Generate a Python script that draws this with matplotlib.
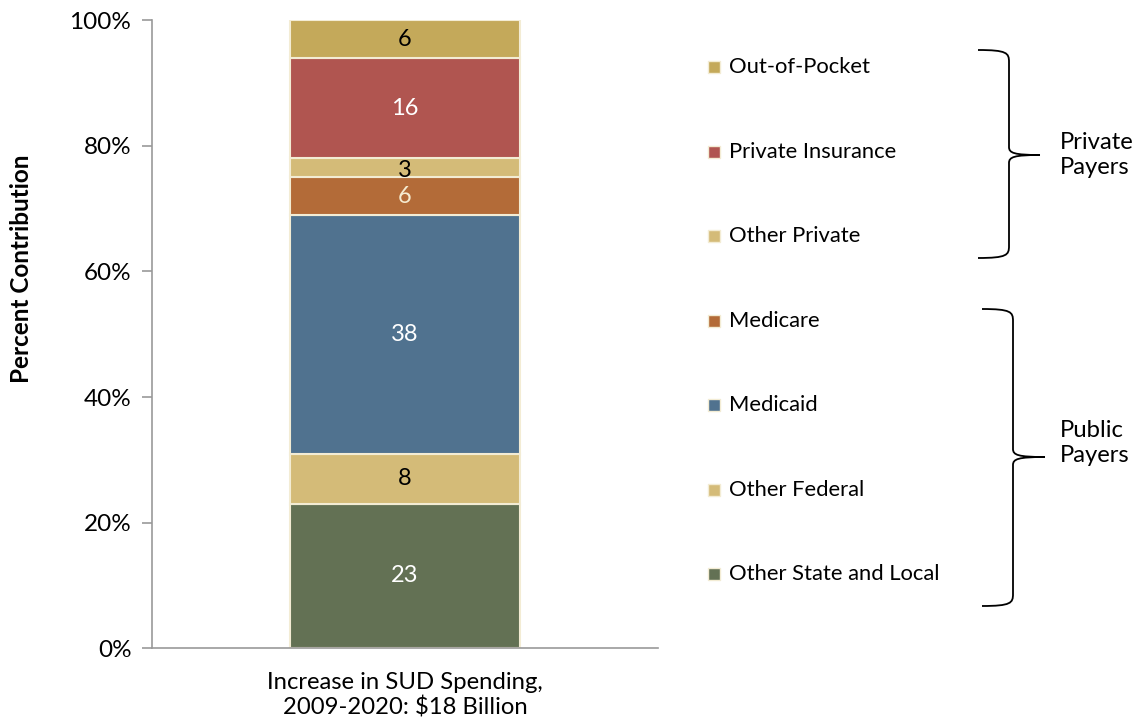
import numpy as np
import matplotlib.pyplot as plt
from matplotlib.patches import Rectangle, PathPatch
from matplotlib.path import Path

plt.rcParams['font.family'] = ['Lato', 'DejaVu Sans']

# payer shares of the increase, bottom to top
payers = ["Other State and Local", "Other Federal", "Medicaid", "Medicare",
          "Other Private", "Private Insurance", "Out-of-Pocket"]
shares = [23, 8, 38, 6, 3, 16, 6]
colors = ["#637154", "#d4bb78", "#50728f", "#b36b38",
          "#d4bb78", "#b05550", "#c4a95a"]
text_colors = ["white", "black", "white", "#f5ebd0",
               "black", "white", "black"]
category = "Increase in SUD Spending,\n2009-2020: $18 Billion"
yticks = [0, 20, 40, 60, 80, 100]

fig = plt.figure(figsize=(11.36, 7.25), dpi=100)
ax = fig.add_axes([0.134, 0.106, 0.445, 0.866])

bottom = 0
for val, col, tc in zip(shares, colors, text_colors):
    ax.bar(0, val, bottom=bottom, width=0.455, color=col,
           edgecolor="#f3ecd4", linewidth=1.5)
    y = bottom + val / 2
    if val <= 3:
        y -= 0.4
    ax.text(0, y, str(val), ha="center", va="center", color=tc, fontsize=17)
    bottom += val

ax.set_xlim(-0.5, 0.5)
ax.set_ylim(0, 100)
ax.set_yticks(yticks)
ax.set_yticklabels([f"{t}%" for t in yticks], fontsize=17.5)
ax.set_xticks([0])
ax.set_xticklabels([category], fontsize=17.2, linespacing=1.2)
ax.tick_params(axis="x", length=0, pad=17)
ax.tick_params(axis="y", length=7, color="#999999", width=1.2, pad=8)
for s in ["top", "right"]:
    ax.spines[s].set_visible(False)
for s in ["left", "bottom"]:
    ax.spines[s].set_color("#999999")
    ax.spines[s].set_linewidth(1.2)

fig.text(22 / 1136, 1 - 269 / 725, "Percent Contribution", rotation=90,
         ha="center", va="center", fontsize=17.5, fontweight="bold")

# legend and braces drawn on a pixel-based overlay
ov = fig.add_axes([0, 0, 1, 1])
ov.set_xlim(0, 1136)
ov.set_ylim(725, 0)
ov.axis("off")

leg_y = 67
for name, col in zip(payers[::-1], colors[::-1]):
    ov.add_patch(Rectangle((708, leg_y - 6), 12, 12, facecolor=col,
                           edgecolor="#f3ecd4", linewidth=1))
    ov.text(729, leg_y, name, ha="left", va="center", fontsize=15.8)
    leg_y += 84.5


def brace(x0, xv, xt, ytop, ymid, ybot):
    verts = [(x0, ytop), (xv - 2, ytop), (xv, ytop + 3), (xv, ytop + 12),
             (xv, ymid - 8),
             (xv, ymid - 2), (xv + 5, ymid), (xt, ymid),
             (xv + 5, ymid), (xv, ymid + 2), (xv, ymid + 8),
             (xv, ybot - 12),
             (xv, ybot - 3), (xv - 2, ybot), (x0, ybot)]
    codes = [Path.MOVETO, Path.CURVE4, Path.CURVE4, Path.CURVE4,
             Path.LINETO,
             Path.CURVE4, Path.CURVE4, Path.CURVE4,
             Path.CURVE4, Path.CURVE4, Path.CURVE4,
             Path.LINETO,
             Path.CURVE4, Path.CURVE4, Path.CURVE4]
    ov.add_patch(PathPatch(Path(verts, codes), facecolor="none",
                           edgecolor="black", linewidth=1.3))


brace(978, 1009, 1040, 50, 155, 258)
brace(982, 1013, 1045, 309, 457, 606)

ov.text(1060, 155, "Private\nPayers", ha="left", va="center",
        fontsize=17.2, linespacing=1.2)
ov.text(1060, 443, "Public\nPayers", ha="left", va="center",
        fontsize=17.2, linespacing=1.2)

fig.savefig("out.png", dpi=100)
